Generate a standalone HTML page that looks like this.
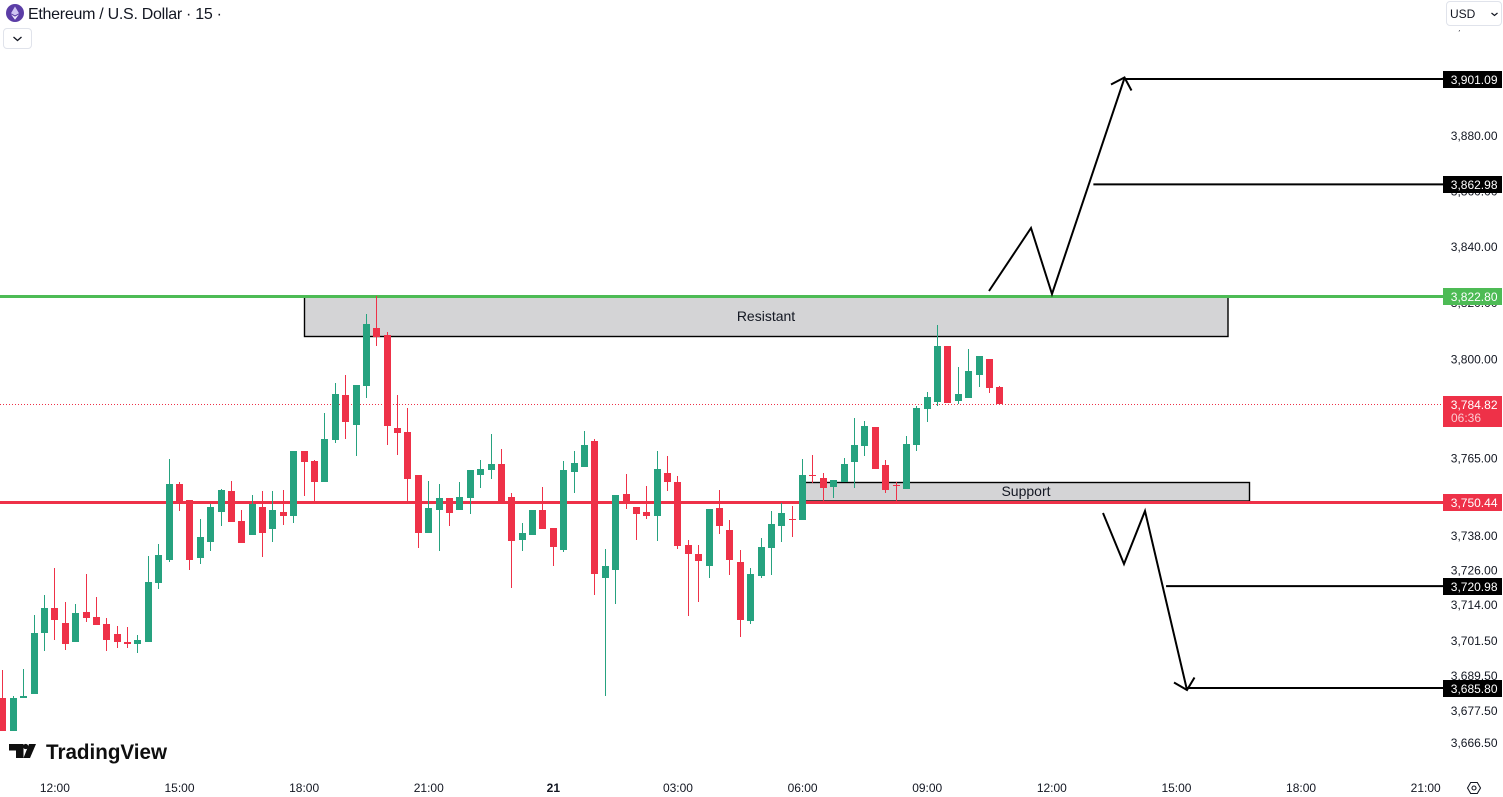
<!DOCTYPE html>
<html lang="en">
<head>
<meta charset="utf-8">
<title>Ethereum / U.S. Dollar 15 chart</title>
<style>
  html, body { margin: 0; padding: 0; background: #fff; width: 1503px; height: 797px; overflow: hidden; }
  svg { display: block; font-family: "Liberation Sans", sans-serif; }
  text { font-family: "Liberation Sans", sans-serif; }
</style>
</head>
<body>
<svg id="chart" xmlns="http://www.w3.org/2000/svg" width="1503" height="797" viewBox="0 0 1503 797">
  <rect x="0" y="0" width="1503" height="797" fill="#ffffff"/>

  <g id="zones"></g>
  <g id="levels"></g>
  <g id="candles"></g>
  <g id="paths">
    <polyline points="989,291 1031,228 1052,294 1124.5,78" fill="none" stroke="#000" stroke-width="2"/>
    <polyline points="1111,84.5 1124.5,77.5 1131.5,90.5" fill="none" stroke="#000" stroke-width="2"/>
    <polyline points="1103,513 1124,564 1145,511 1187,690" fill="none" stroke="#000" stroke-width="2"/>
    <polyline points="1174,682.5 1187,690 1194.5,677.5" fill="none" stroke="#000" stroke-width="2"/>
  </g>
  <g id="y-axis"></g>
  <g id="x-axis"></g>
  <g id="price-labels"></g>

  <g>
    <circle cx="15" cy="13" r="9" fill="#5b3da6"/>
    <polygon points="15,6.5 19,13.2 15,15.4 11,13.2" fill="#cfc4f2"/>
    <polygon points="11,14.4 15,16.6 19,14.4 15,19.8" fill="#ece7fb"/>
    <text x="28" y="19" font-size="16" fill="#131722" textLength="194" lengthAdjust="spacing">Ethereum / U.S. Dollar · 15 ·</text>
    <rect x="3.5" y="28.5" width="28" height="20" rx="3.5" fill="#fff" stroke="#e0e3eb"/>
    <polyline points="13.5,37 17.5,40.5 21.5,37" fill="none" stroke="#131722" stroke-width="1.3"/>
  </g>

  <g>
    <rect x="1443" y="0" width="60" height="30" fill="#fff"/>
    <rect x="1446.5" y="1.5" width="55" height="24" rx="3.5" fill="#fff" stroke="#e0e3eb"/>
    <text x="1450" y="18" font-size="12" fill="#131722">USD</text>
    <polyline points="1491.5,13 1494.5,15.5 1497.5,13" fill="none" stroke="#131722" stroke-width="1.2"/>
  </g>

  <g>
    <polygon points="9,744 23.5,744 23.5,758 16,758 16,750.5 9,750.5" fill="#0f0f0f"/>
    <circle cx="25.7" cy="746.5" r="2.6" fill="#0f0f0f"/>
    <polygon points="29,744 36,744 30,758 23.5,758" fill="#0f0f0f"/>
    <text x="46" y="759" font-size="21.5" font-weight="bold" fill="#0f0f0f" textLength="121" lengthAdjust="spacingAndGlyphs">TradingView</text>
  </g>

  <g>
    <polygon points="1467.5,788 1470.7,782.5 1477.3,782.5 1480.5,788 1477.3,793.5 1470.7,793.5" fill="none" stroke="#131722" stroke-width="1.1"/>
    <circle cx="1474" cy="788" r="2" fill="none" stroke="#131722" stroke-width="1.1"/>
  </g>
</svg>

<script>
// ---- Candle data (15-minute bars) ----
const opens = [3682.2,3671.0,3682.5,3683.6,3704.6,3713.4,3708.1,3701.8,3712.0,3710.3,3707.8,3704.3,3701.8,3701.1,3701.8,3722.2,3730.0,3756.6,3751.0,3730.7,3736.3,3746.8,3754.2,3743.7,3738.8,3748.6,3740.9,3746.8,3745.4,3768.2,3764.7,3757.3,3772.0,3787.8,3777.3,3790.9,3811.6,3809.0,3776.2,3774.8,3759.8,3739.5,3747.5,3751.7,3747.5,3751.7,3759.8,3761.5,3763.6,3752.1,3737.0,3738.8,3747.5,3741.2,3733.5,3760.8,3762.6,3771.7,3723.9,3726.4,3753.1,3748.6,3746.8,3745.4,3760.5,3757.3,3735.3,3732.1,3728.1,3748.2,3740.5,3729.2,3708.8,3724.6,3734.2,3741.9,3744.4,3744.0,3759.8,3758.7,3755.6,3757.3,3764.3,3769.9,3776.6,3763.3,3756.3,3754.9,3770.3,3782.9,3785.3,3805.1,3785.7,3786.7,3794.8,3800.6,3790.6];
const highs = [3692.0,3683.2,3692.4,3711.0,3718.0,3727.1,3715.5,3714.8,3725.3,3717.3,3709.9,3707.1,3706.7,3703.9,3731.4,3735.6,3765.4,3757.3,3751.0,3744.4,3749.6,3754.9,3757.7,3747.5,3752.8,3754.2,3754.2,3754.5,3768.2,3768.2,3765.0,3781.5,3792.0,3795.1,3791.3,3816.5,3822.8,3810.0,3787.8,3783.2,3759.8,3757.7,3756.6,3751.7,3757.3,3761.5,3765.0,3774.1,3768.9,3753.5,3743.0,3747.5,3755.6,3741.2,3764.7,3768.2,3775.2,3772.4,3733.9,3752.8,3760.1,3748.6,3755.9,3768.2,3766.4,3759.4,3737.0,3735.3,3747.9,3754.5,3744.0,3733.5,3727.4,3737.7,3747.2,3750.0,3748.9,3765.4,3766.8,3760.5,3758.0,3765.7,3779.7,3778.7,3776.6,3765.0,3757.3,3773.4,3783.9,3788.8,3812.7,3805.1,3797.8,3804.1,3801.6,3800.6,3790.9];
const lows = [3671.0,3671.0,3682.5,3683.6,3698.7,3702.5,3699.0,3701.8,3708.5,3707.4,3698.7,3699.4,3699.4,3698.0,3701.8,3720.1,3729.2,3747.2,3726.4,3728.5,3733.2,3741.9,3743.3,3736.0,3738.8,3731.1,3736.3,3742.3,3743.0,3752.4,3750.3,3757.3,3771.0,3772.4,3766.4,3786.7,3805.1,3770.3,3766.8,3750.3,3734.2,3739.5,3733.2,3741.9,3747.5,3746.1,3755.2,3758.4,3750.0,3720.4,3733.2,3738.8,3740.9,3728.1,3732.8,3753.5,3762.6,3718.0,3683.2,3714.8,3747.9,3737.0,3744.4,3736.7,3754.2,3733.9,3710.6,3715.5,3723.9,3739.1,3725.0,3703.2,3707.8,3723.9,3725.0,3736.3,3738.1,3744.0,3757.0,3750.7,3751.7,3757.3,3755.2,3766.4,3761.9,3753.5,3750.7,3754.9,3768.2,3778.3,3783.9,3785.0,3784.6,3786.7,3790.6,3788.5,3784.2];
const closes = [3671.0,3682.5,3682.9,3704.6,3713.4,3709.2,3700.8,3711.7,3709.9,3707.4,3702.5,3701.8,3700.8,3702.5,3722.5,3731.8,3756.6,3749.6,3730.0,3738.1,3748.6,3754.5,3743.3,3736.0,3749.6,3739.5,3747.5,3745.4,3768.2,3764.3,3757.3,3772.4,3788.1,3778.3,3791.3,3813.0,3808.3,3776.9,3774.5,3758.4,3739.5,3748.2,3751.7,3746.5,3752.1,3761.5,3761.9,3763.6,3750.0,3736.7,3739.5,3747.5,3740.9,3734.6,3761.5,3764.0,3770.3,3725.3,3727.8,3752.8,3750.0,3746.1,3745.4,3761.9,3757.3,3734.9,3732.1,3729.8,3747.9,3741.9,3730.0,3709.2,3725.3,3734.6,3742.6,3746.5,3744.0,3759.8,3759.4,3755.2,3758.0,3763.6,3770.3,3776.9,3761.9,3754.5,3755.9,3770.6,3783.2,3787.1,3805.1,3785.0,3788.1,3796.2,3801.6,3790.2,3784.82];

// ---- Axis data ----
const priceTicks = [3920,3880,3860,3840,3820,3800,3765,3738,3726,3714,3701.5,3689.5,3677.5,3666.5];
const timeTickBars = [5,17,29,41,53,65,77,89,101,113,125,137];
const timeTickLabels = ["12:00","15:00","18:00","21:00","21","03:00","06:00","09:00","12:00","15:00","18:00","21:00"];

// ---- Drawing data ----
const targetLevels = [3901.09,3862.98,3720.98,3685.80];
const targetStartBars = [108,105,112,114];
const resistancePrice = 3822.80;
const supportPrice = 3750.44;
const lastPrice = 3784.82;
const countdownText = "06:36";

// ---- Axis functions ----
function xOf(bar) { return 2.95 + 10.385 * bar; }
function yOf(price) { return 79 + 10728 * Math.log(3901.09 / price); }
function priceFmt(p) { return p.toFixed(2).replace(/\B(?=(\d{3})(?!\d))/, ","); }

const NS = "http://www.w3.org/2000/svg";
const COLOR_UP = "#26a27f";
const COLOR_DOWN = "#ee3148";
const COLOR_RES = "#4dbb55";
function mk(tag, parent, attrs) {
  const el = document.createElementNS(NS, tag);
  for (const k in attrs) el.setAttribute(k, attrs[k]);
  parent.appendChild(el);
  return el;
}

// Zones
const zones = document.getElementById("zones");
const resBox = mk("rect", zones, { x: 304.5, y: yOf(resistancePrice), width: 923.5, height: 336.5 - yOf(resistancePrice), fill: "#d4d4d6", stroke: "#000", "stroke-width": 1.4 });


const resText = mk("text", zones, { x: 766, y: 321, "font-size": 14, "text-anchor": "middle", fill: "#131722" });
resText.textContent = "Resistant";


const supBox = mk("rect", zones, { x: 803.5, y: 482.5, width: 446, height: 18.5, fill: "#d4d4d6", stroke: "#000", "stroke-width": 1.4 });


const supText = mk("text", zones, { x: 1026, y: 496, "font-size": 14, "text-anchor": "middle", fill: "#131722" });
supText.textContent = "Support";



// Level lines
const levels = document.getElementById("levels");
const dotted = mk("line", levels, { x1: 0, x2: 1443, y1: Math.round(yOf(lastPrice)) + 0.5, y2: Math.round(yOf(lastPrice)) + 0.5, stroke: "#ee3148", "stroke-width": 1, "stroke-dasharray": "1 2" });


const resLine = mk("line", levels, { x1: 0, x2: 1443, y1: yOf(resistancePrice), y2: yOf(resistancePrice), stroke: COLOR_RES, "stroke-width": 3 });


const supLine = mk("line", levels, { x1: 0, x2: 1443, y1: yOf(supportPrice) + 1, y2: yOf(supportPrice) + 1, stroke: COLOR_DOWN, "stroke-width": 3 });


targetLevels.forEach(function (p, i) {
  const l = mk("line", levels, { x1: xOf(targetStartBars[i]), x2: 1443, y1: yOf(p), y2: yOf(p), stroke: "#000", "stroke-width": 2 });
  
  
});

// Candles
const candles = document.getElementById("candles");
opens.forEach(function (o, i) {
  const c = closes[i], up = c >= o, col = up ? COLOR_UP : COLOR_DOWN;
  const cx = Math.floor(xOf(i)) + 0.5;
  const wt = Math.round(yOf(highs[i])), wb = Math.round(yOf(lows[i]));
  const bt = Math.round(yOf(Math.max(o, c))), bb = Math.round(yOf(Math.min(o, c)));
  const g = mk("g", candles, { "shape-rendering": "crispEdges", fill: col });
  
  
  const wick = mk("rect", g, { x: cx - 0.5, y: wt, width: 1, height: Math.max(1, wb - wt) });
  
  
  const body = mk("rect", g, { x: cx - 3.5, y: bt, width: 7, height: Math.max(1, bb - bt) });
  
  
});

// Price axis
const yAxis = document.getElementById("y-axis");
priceTicks.forEach(function (p) {
  const t = mk("text", yAxis, { x: 1497.5, y: yOf(p) + 2.8, "font-size": 12, "text-anchor": "end", fill: "#131722" });
  t.textContent = priceFmt(p);
  
  
});

// Time axis
const xAxis = document.getElementById("x-axis");
timeTickBars.forEach(function (b, i) {
  const isDay = timeTickLabels[i] === "21";
  const t = mk("text", xAxis, { x: xOf(b), y: 792, "font-size": 12, "text-anchor": "middle", fill: "#131722", "font-weight": isDay ? "bold" : "normal" });
  t.textContent = timeTickLabels[i];
  
  
});

// Price labels on axis
const labels = document.getElementById("price-labels");
function priceTag(p, fill, h, name, shift) {
  const top = Math.round(yOf(p) + shift) - 8;
  const box = mk("rect", labels, { x: 1443, y: top, width: 59, height: h, fill: fill });
  
  
  const t = mk("text", labels, { x: 1497.5, y: top + 13, "font-size": 12, "text-anchor": "end", fill: "#ffffff" });
  t.textContent = priceFmt(p);
  
  
  return top;
}
targetLevels.forEach(function (p) { priceTag(p, "#000000", 17, "target-price", 0); });
priceTag(resistancePrice, COLOR_RES, 17, "resistance-price", -0.2);
priceTag(supportPrice, COLOR_DOWN, 17, "support-price", 0.7);
const lastTop = priceTag(lastPrice, COLOR_DOWN, 31, "last-price", 0);
const cd = mk("text", labels, { x: 1451, y: lastTop + 26, "font-size": 12, fill: "#ffffff", "fill-opacity": 0.75 });
cd.textContent = countdownText;


</script>
</body>
</html>
